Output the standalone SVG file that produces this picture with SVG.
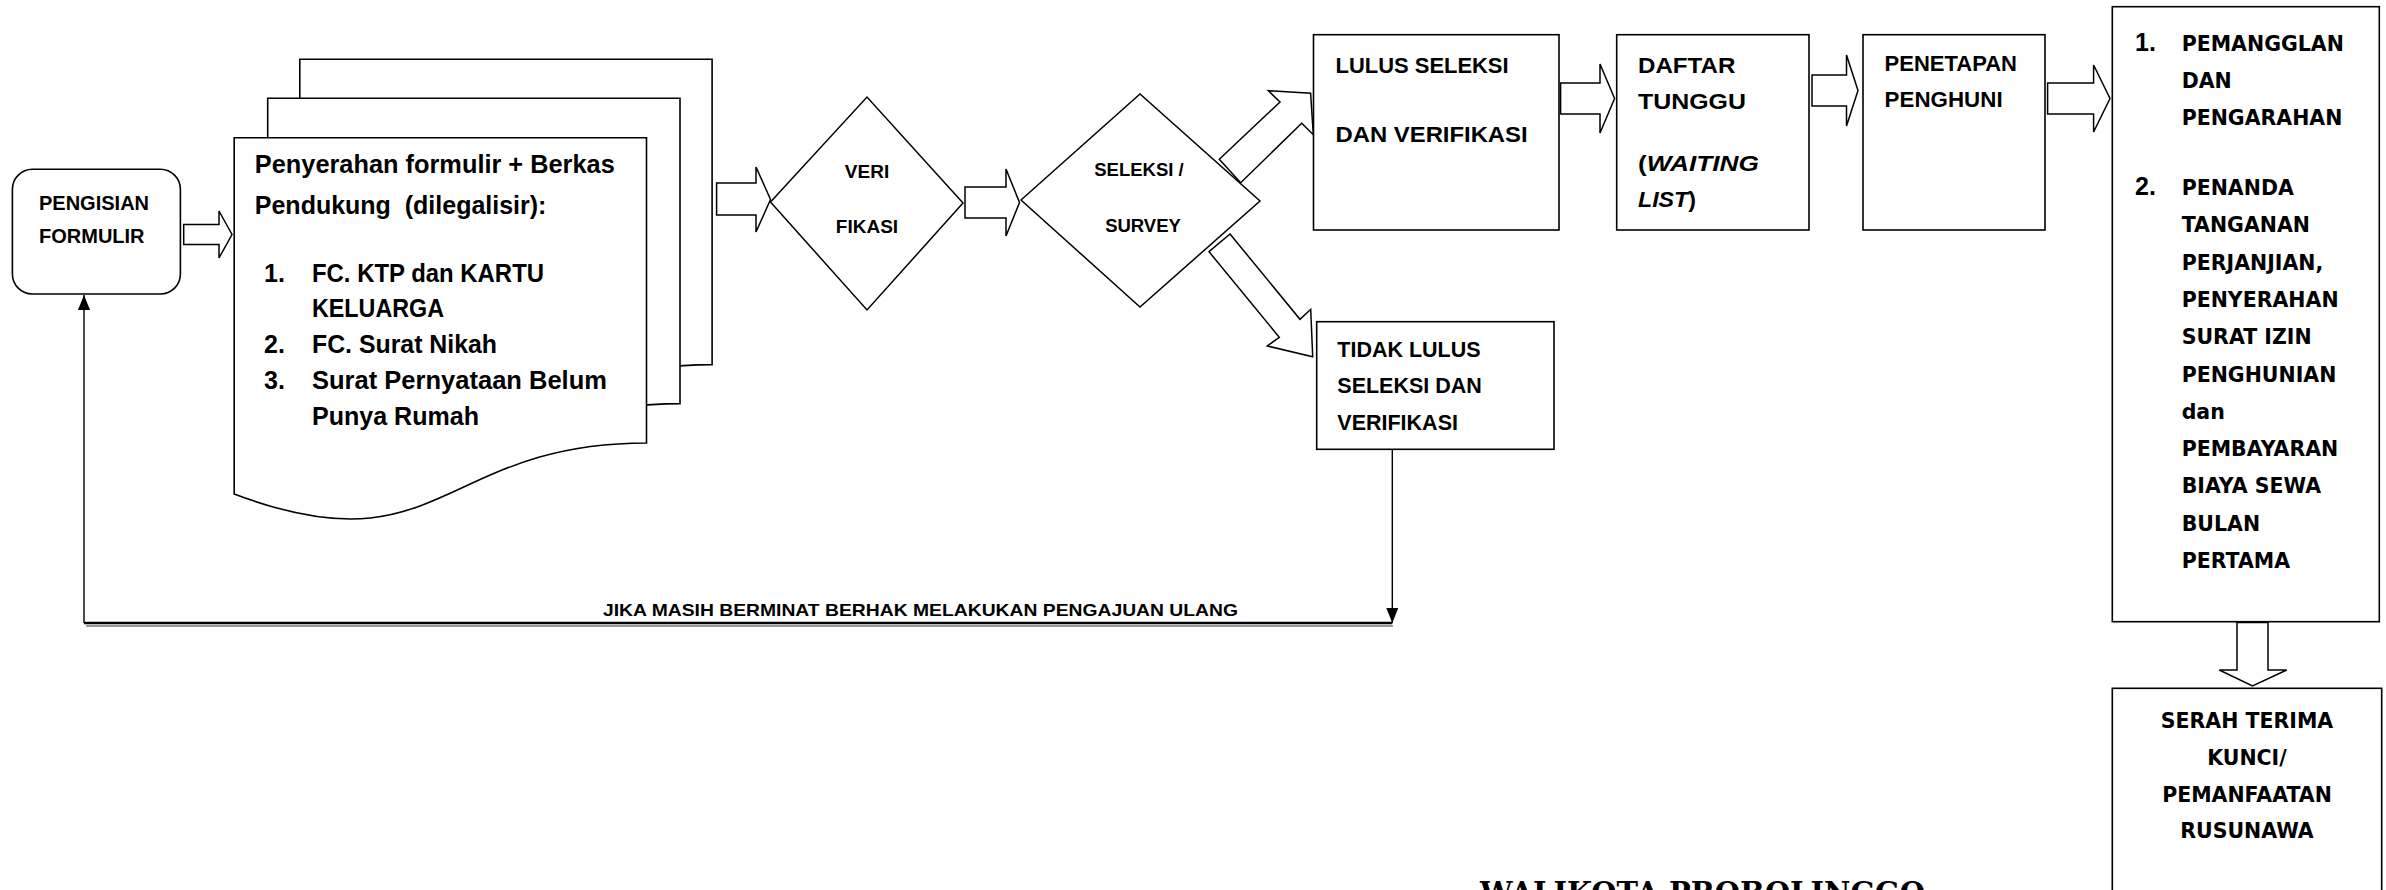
<svg xmlns="http://www.w3.org/2000/svg" width="2386" height="890" viewBox="0 0 2386 890">
<style>
.box{fill:#fff;stroke:#000;stroke-width:1.6}
.dia{fill:#fff;stroke:#000;stroke-width:1.5}
.blk{fill:#fff;stroke:#000;stroke-width:1.5;stroke-linejoin:miter}
.ln{fill:none;stroke:#000;stroke-width:1.4}
.t{font-family:"Liberation Sans",Arial,sans-serif;font-weight:bold;fill:#000}
.v{font-family:"DejaVu Sans",Verdana,sans-serif;font-weight:bold;fill:#000;font-size:20.5px}
.d{font-size:25px}
.m{font-size:22.5px}
.c{text-anchor:middle}
</style>
<defs>
<path id="doc" d="M0,0 H412.3 V305.3 C206,305.3 206,434.3 0,356.3 Z"/>
<marker id="tri" viewBox="0 0 15 12" refX="15" refY="6" markerWidth="15" markerHeight="12" markerUnits="userSpaceOnUse" orient="auto">
<path d="M0,0 L15,6 L0,12 Z" fill="#000"/>
</marker>
</defs>
<rect width="2386" height="890" fill="#fff"/>

<g id="pengisian">
<rect class="box" x="12.4" y="169.3" width="168" height="124.7" rx="20" ry="20"/>
<text class="t" x="39" y="210" font-size="20">PENGISIAN</text>
<text class="t" x="39" y="242.7" font-size="20">FORMULIR</text>
</g>

<g id="berkas">
<use href="#doc" x="299.8" y="59.3" class="box"/>
<use href="#doc" x="267.7" y="98.3" class="box"/>
<use href="#doc" x="234.2" y="137.7" class="box"/>
<text class="t d" x="254.8" y="173" textLength="360" lengthAdjust="spacingAndGlyphs">Penyerahan formulir + Berkas</text>
<text class="t d" x="254.8" y="214" style="white-space:pre" textLength="291.6" lengthAdjust="spacingAndGlyphs">Pendukung  (dilegalisir):</text>
<text class="t d" x="264" y="282">1.</text>
<text class="t d" x="312" y="282" textLength="232" lengthAdjust="spacingAndGlyphs">FC. KTP dan KARTU</text>
<text class="t d" x="312" y="317" textLength="132" lengthAdjust="spacingAndGlyphs">KELUARGA</text>
<text class="t d" x="264" y="353">2.</text>
<text class="t d" x="312" y="353" textLength="185" lengthAdjust="spacingAndGlyphs">FC. Surat Nikah</text>
<text class="t d" x="264" y="389">3.</text>
<text class="t d" x="312" y="389" textLength="295" lengthAdjust="spacingAndGlyphs">Surat Pernyataan Belum</text>
<text class="t d" x="312" y="425" textLength="167" lengthAdjust="spacingAndGlyphs">Punya Rumah</text>
</g>

<g id="verifikasi">
<polygon class="dia" points="770.5,202 867,97 963,203 867,310"/>
<text class="t c" x="867" y="178" font-size="19">VERI</text>
<text class="t c" x="867" y="233" font-size="19">FIKASI</text>
</g>

<g id="seleksi">
<polygon class="dia" points="1021,200 1140,94 1260,201 1140,307"/>
<text class="t c" x="1139" y="176" font-size="18.5">SELEKSI /</text>
<text class="t c" x="1143" y="232" font-size="18.5">SURVEY</text>
</g>

<g id="lulus">
<rect class="box" x="1313.5" y="34.7" width="245.5" height="195.3"/>
<text class="t m" x="1335.6" y="73" textLength="173" lengthAdjust="spacingAndGlyphs">LULUS SELEKSI</text>
<text class="t m" x="1335.6" y="141.7" textLength="192" lengthAdjust="spacingAndGlyphs">DAN VERIFIKASI</text>
</g>

<g id="tidak-lulus">
<rect class="box" x="1316.7" y="321.7" width="237.3" height="127.6"/>
<text class="t" x="1337.3" y="356.7" font-size="21.5">TIDAK LULUS</text>
<text class="t" x="1337.3" y="393.3" font-size="21.5">SELEKSI DAN</text>
<text class="t" x="1337.3" y="430" font-size="21.5">VERIFIKASI</text>
</g>

<g id="daftar-tunggu">
<rect class="box" x="1616.7" y="34.7" width="192.3" height="195.3"/>
<text class="t m" x="1638" y="73.3" textLength="97.4" lengthAdjust="spacingAndGlyphs">DAFTAR</text>
<text class="t m" x="1638" y="109" textLength="108" lengthAdjust="spacingAndGlyphs">TUNGGU</text>
<text class="t m" x="1638" y="170.7" textLength="121" lengthAdjust="spacingAndGlyphs">(<tspan font-style="italic">WAITING</tspan></text>
<text class="t m" x="1638" y="206.7" textLength="58" lengthAdjust="spacingAndGlyphs"><tspan font-style="italic">LIST</tspan>)</text>
</g>

<g id="penetapan">
<rect class="box" x="1863" y="34.7" width="182" height="195.3"/>
<text class="t m" x="1884.6" y="71" textLength="132.4" lengthAdjust="spacingAndGlyphs">PENETAPAN</text>
<text class="t m" x="1884.6" y="107.3" textLength="118" lengthAdjust="spacingAndGlyphs">PENGHUNI</text>
</g>

<g id="pemanggilan">
<rect class="box" x="2112.3" y="6.7" width="267" height="615"/>
<text class="t" x="2135" y="50.5" font-size="25">1.</text>
<text class="v" x="2181.7" y="50.5">PEMANGGLAN</text>
<text class="v" x="2181.7" y="87.5">DAN</text>
<text class="v" x="2181.7" y="124.5">PENGARAHAN</text>
<text class="t" x="2135" y="195" font-size="25">2.</text>
<text class="v" x="2181.7" y="195">PENANDA</text>
<text class="v" x="2181.7" y="232.3">TANGANAN</text>
<text class="v" x="2181.7" y="269.6">PERJANJIAN,</text>
<text class="v" x="2181.7" y="306.9">PENYERAHAN</text>
<text class="v" x="2181.7" y="344.2">SURAT IZIN</text>
<text class="v" x="2181.7" y="381.5">PENGHUNIAN</text>
<text class="v" x="2181.7" y="418.8">dan</text>
<text class="v" x="2181.7" y="456.1">PEMBAYARAN</text>
<text class="v" x="2181.7" y="493.4">BIAYA SEWA</text>
<text class="v" x="2181.7" y="530.7">BULAN</text>
<text class="v" x="2181.7" y="568">PERTAMA</text>
</g>

<g id="serah-terima">
<rect class="box" x="2112.3" y="688.3" width="269.4" height="230"/>
<text class="v c" x="2247" y="728.3">SERAH TERIMA</text>
<text class="v c" x="2247" y="765">KUNCI/</text>
<text class="v c" x="2247" y="801.7">PEMANFAATAN</text>
<text class="v c" x="2247" y="838.3">RUSUNAWA</text>
</g>

<g id="walikota">
<text x="1480" y="903" font-family="'DejaVu Serif','Liberation Serif',serif" font-weight="bold" font-size="29" textLength="445" lengthAdjust="spacingAndGlyphs">WALIKOTA PROBOLINGGO</text>
</g>

<g id="connectors">
<polygon class="blk" points="183.7,224.5 219,224.5 219,211 232,234.5 219,258 219,244.5 183.7,244.5"/>
<polygon class="blk" points="716.6,183 756,183 756,167 770.5,199.5 756,232 756,215 716.6,215"/>
<polygon class="blk" points="965,187 1006,187 1006,169 1019.5,202.5 1006,236 1006,218 965,218"/>
<polygon class="blk" points="1219.3,159.3 1280,102 1268.3,90.7 1310.6,93.3 1313.3,134.7 1301.7,123.3 1240.7,182.7"/>
<polygon class="blk" points="1230,234 1300,319.3 1310.7,309.3 1312.7,356.7 1267.3,346 1279.3,337.3 1209,251.7"/>
<polygon class="blk" points="1560.6,83 1600,83 1600,64 1614.6,98.5 1600,133 1600,114 1560.6,114"/>
<polygon class="blk" points="1812,75 1846.5,75 1846.5,55 1858,90.5 1846.5,126 1846.5,106 1812,106"/>
<polygon class="blk" points="2047.6,83 2093.6,83 2093.6,65 2110,98.5 2093.6,132 2093.6,114 2047.6,114"/>
<polygon class="blk" points="2237,622.5 2268,622.5 2268,670 2286.7,670 2252.5,686 2219.3,670 2237,670"/>
<path class="ln" d="M1392.3,449.3 V623" marker-end="url(#tri)"/>
<path d="M86,626 H1393" stroke="#9a9a9a" stroke-width="2" fill="none"/>
<path d="M84,623 H1392.3" stroke="#000" stroke-width="2.6" fill="none"/>
<path class="ln" d="M84,623 V295" marker-end="url(#tri)"/>
<text class="t" x="603" y="616" font-size="17" textLength="635" lengthAdjust="spacingAndGlyphs">JIKA MASIH BERMINAT BERHAK MELAKUKAN PENGAJUAN ULANG</text>
</g>
</svg>
